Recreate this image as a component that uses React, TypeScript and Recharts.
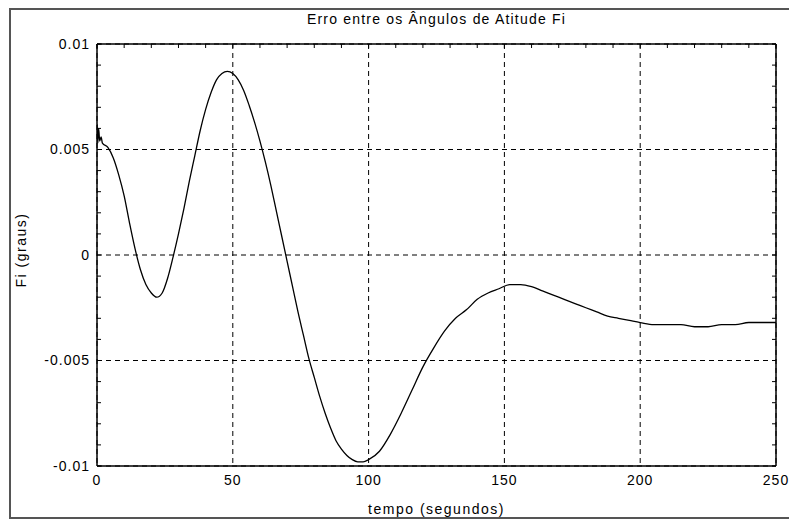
import React from "react";
import { LineChart, Line, XAxis, YAxis, CartesianGrid } from "recharts";

// tempo (s) e erro do ângulo Fi (graus)
const tempo = [
  0, 0.3, 0.6, 1, 1.5, 2, 4, 6, 8, 10, 12, 14, 16, 18, 20, 22, 24, 26, 28, 30,
  32, 34, 36, 38, 40, 42, 44, 46, 48, 50, 52, 54, 56, 58, 60, 62, 64, 66, 68, 70,
  72, 74, 76, 78, 80, 82, 84, 86, 88, 90, 92, 94, 96, 98, 100, 104, 108, 112, 116, 120,
  124, 128, 132, 136, 140, 144, 148, 152, 156, 160, 164, 168, 172, 176, 180, 184, 188, 192, 196, 200,
  205, 210, 215, 220, 225, 230, 235, 240, 245, 250,
];
const erroFi = [
  0.0062, 0.0053, 0.006, 0.0054, 0.0056, 0.0053, 0.0051, 0.0046, 0.0038, 0.0028, 0.0015, 0.0003, -0.0007, -0.0014, -0.0018, -0.002, -0.0018, -0.0011, -0.0001, 0.001,
  0.0022, 0.0035, 0.0047, 0.0059, 0.0069, 0.0077, 0.0083, 0.0086, 0.0087, 0.0086, 0.0083, 0.0078, 0.0071, 0.0063, 0.0054, 0.0044, 0.0033, 0.0021, 0.0009, -0.0003,
  -0.0015, -0.0027, -0.0038, -0.0049, -0.0058, -0.0067, -0.0075, -0.0082, -0.0088, -0.0092, -0.0095, -0.0097, -0.0098, -0.0098, -0.0097, -0.0093, -0.0085, -0.0075, -0.0064, -0.0053,
  -0.0044, -0.0036, -0.003, -0.0026, -0.0021, -0.0018, -0.0016, -0.0014, -0.0014, -0.0015, -0.0017, -0.0019, -0.0021, -0.0023, -0.0025, -0.0027, -0.0029, -0.003, -0.0031, -0.0032,
  -0.0033, -0.0033, -0.0033, -0.0034, -0.0034, -0.0033, -0.0033, -0.0032, -0.0032, -0.0032,
];

const xMajorTicks = [0, 50, 100, 150, 200, 250];
const xMinorTicks = [0, 10, 20, 30, 40, 50, 60, 70, 80, 90, 100, 110, 120, 130, 140, 150, 160, 170, 180, 190, 200, 210, 220, 230, 240, 250];
const yMajorTicks = [-0.01, -0.005, 0, 0.005, 0.01];
const yMinorTicks = [
  -0.01, -0.009, -0.008, -0.007, -0.006, -0.005, -0.004, -0.003, -0.002, -0.001, 0,
  0.001, 0.002, 0.003, 0.004, 0.005, 0.006, 0.007, 0.008, 0.009, 0.01,
];

const data = tempo.map((t, i) => ({ t, fi: erroFi[i] }));

const FONT = "'Liberation Sans', Arial, sans-serif";

const LeftTick = (props: any) => {
  const { x, y, payload } = props;
  const major = yMajorTicks.includes(payload.value);
  return (
    <g>
      <line x1={x} x2={x + 4} y1={y} y2={y} stroke="#000" />
      {major && (
        <text x={x - 7} y={y} dy="0.35em" textAnchor="end" fontSize={14} fill="#000"
          style={{ letterSpacing: 1, fontFamily: FONT }}>
          {String(payload.value)}
        </text>
      )}
    </g>
  );
};

const RightTick = (props: any) => {
  const { x, y } = props;
  return <line x1={x - 4} x2={x} y1={y} y2={y} stroke="#000" />;
};

const TopTick = (props: any) => {
  const { x, y } = props;
  return <line x1={x} x2={x} y1={y} y2={y + 4} stroke="#000" />;
};

export default function App() {
  return (
    <div style={{ position: "absolute", left: 0, top: 0, width: 789, height: 525, background: "#fff", fontFamily: FONT, overflow: "hidden" }}>
      <div style={{ position: "absolute", left: 9, top: 8, width: 800, height: 511, border: "2px solid #555", boxSizing: "border-box" }} />
      <div style={{ position: "absolute", left: 97, width: 679, top: 11, textAlign: "center", fontSize: 14, letterSpacing: 1.2 }}>
        Erro entre os Ângulos de Atitude Fi
      </div>
      <div style={{ position: "absolute", left: 97, width: 679, top: 501, textAlign: "center", fontSize: 14, letterSpacing: 1.5 }}>
        tempo (segundos)
      </div>
      <div style={{ position: "absolute", left: 21, top: 251, width: 0, height: 0 }}>
        <div style={{ position: "absolute", left: -60, top: -9, width: 120, textAlign: "center", fontSize: 14, letterSpacing: 1.5, transform: "rotate(-90deg)", whiteSpace: "nowrap" }}>
          Fi (graus)
        </div>
      </div>
      <div style={{ position: "absolute", left: 0, top: 0 }}>
        <LineChart width={789} height={525} data={data} margin={{ top: 43, right: 12, bottom: 29, left: 37 }}>
          <CartesianGrid xAxisId="b" yAxisId="l" stroke="#000" strokeDasharray="5 4"
            horizontalValues={yMajorTicks} verticalValues={xMajorTicks} />
          <XAxis xAxisId="b" dataKey="t" type="number" domain={[0, 250]} ticks={xMajorTicks} allowDataOverflow
            height={30} tickLine={false} tickSize={0} tickMargin={9} axisLine={{ stroke: "#000", strokeWidth: 1.5 }}
            tick={{ fill: "#000", fontSize: 14, fontFamily: FONT, letterSpacing: 1 }} interval={0} />
          <XAxis xAxisId="t" orientation="top" dataKey="t" type="number" domain={[0, 250]} ticks={xMinorTicks} allowDataOverflow
            height={1} tickLine={false} tickSize={0} tickMargin={0} axisLine={{ stroke: "#000", strokeWidth: 1.5 }}
            tick={<TopTick />} interval={0} />
          <YAxis yAxisId="l" type="number" domain={[-0.01, 0.01]} ticks={yMinorTicks} allowDataOverflow
            width={60} tickLine={false} tickSize={0} tickMargin={0} axisLine={{ stroke: "#000", strokeWidth: 1.5 }}
            tick={<LeftTick />} interval={0} />
          <YAxis yAxisId="r" orientation="right" type="number" domain={[-0.01, 0.01]} ticks={yMinorTicks} allowDataOverflow
            width={1} tickLine={false} tickSize={0} tickMargin={0} axisLine={{ stroke: "#000", strokeWidth: 1.5 }}
            tick={<RightTick />} interval={0} />
          <Line xAxisId="b" yAxisId="l" dataKey="fi" type="monotone" stroke="#000" strokeWidth={1.3} dot={false} isAnimationActive={false} />
          <Line xAxisId="t" yAxisId="r" dataKey="fi" type="monotone" stroke="none" dot={false} isAnimationActive={false} legendType="none" />
        </LineChart>
      </div>
    </div>
  );
}
